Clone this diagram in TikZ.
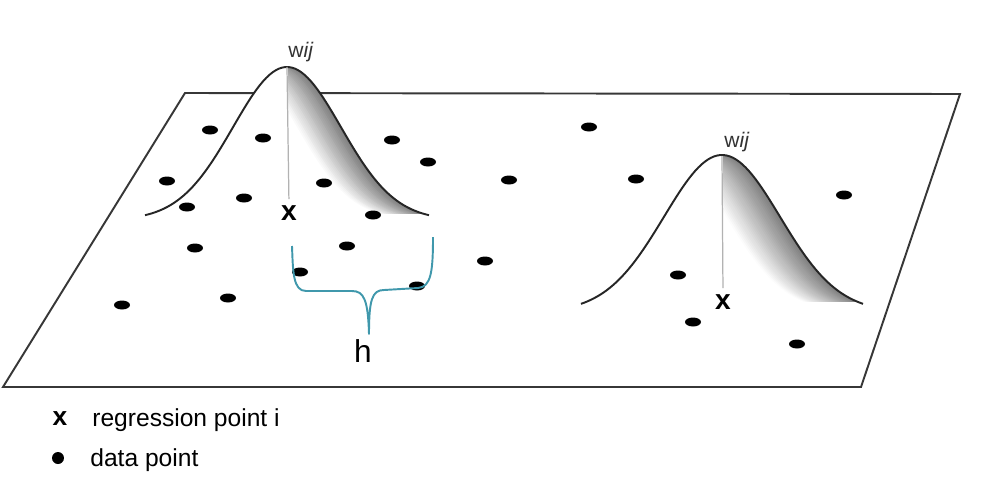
\documentclass[tikz,border=0pt]{standalone}
\usepackage{fontspec}
\setmainfont{Liberation Sans}
\usetikzlibrary{positioning}
\definecolor{braceteal}{RGB}{64,152,172}
\definecolor{planeedge}{RGB}{55,55,55}
% bell: centre, sigma, base, height, half range, band width
\newcommand{\drawbell}[6]{%
  \pgfmathsetmacro{\yend}{#3-#4*exp(-0.5*((#5)/#2)^2)}
  \fill[white] plot[domain=#1-#5:#1+#5, samples=90]
    (\x,{#3-#4*exp(-0.5*((\x-#1)/#2)^2)}) -- cycle;
  \foreach \s [evaluate=\s as \g using {int(50-50*\s/#6)}] in {0,2,...,#6}
    \fill[black!\g] (#1,\yend)
      -- plot[domain=#1:#1+#5-\s, samples=50] (\x,{#3-#4*exp(-0.5*((\x+\s-#1)/#2)^2)})
      -- cycle;
  \draw[white, line width=1.6pt] (#1,\yend) -- (#1+#5,\yend);
  \draw[white, line width=1.2pt] (#1,#3-#4) -- (#1,\yend);
  \draw[bellline] plot[domain=#1-#5:#1+#5, samples=90]
    (\x,{#3-#4*exp(-0.5*((\x-#1)/#2)^2)});
}

\begin{document}
\begin{tikzpicture}[x=0.02cm, y=-0.02cm,
    planeline/.style={draw=planeedge, line width=1.1pt, line join=miter},
    bellline/.style={draw=black!85, line width=1.1pt},
    heightline/.style={draw=black!30, line width=0.7pt, shorten >=3.5pt},
    regpt/.style={inner sep=0pt, font=\fontsize{16}{16}\selectfont\bfseries},
    wlabel/.style={inner sep=0pt, text=black!80, font=\fontsize{12}{12}\selectfont},
    legendtext/.style={anchor=base west, inner sep=0pt, font=\fontsize{14}{16}\selectfont}
]
\useasboundingbox (0,0) rectangle (997,494);

% ground plane
\draw[planeline] (3,387) -- (185,93) -- (960,94) -- (861,387) -- cycle;

% kernels
\drawbell{287}{54}{220}{153}{142}{44}
\drawbell{722}{58}{312}{157}{141}{54}

% data points
\foreach \px/\py in {210/130, 263/138, 392/140, 428/162, 167/181, 324/183,
    509/180, 636/179, 589/127, 844/195, 187/207, 244/198, 373/215, 195/248,
    347/246, 485/261, 300/272, 417/286, 228/298, 122/305, 678/275, 693/322, 797/344}
  \fill (\px,\py) ellipse [x radius=0.16cm, y radius=0.09cm];

% regression points
\node[regpt] (xL) at (289,213) {x};
\coordinate (peakL) at (287,67);
\draw[heightline] (peakL) -- (xL.north);
\node[wlabel] (wL) at (301,52) {w\textit{ij}};

\node[regpt] (xR) at (723,302) {x};
\coordinate (peakR) at (722,156);
\draw[heightline] (peakR) -- (xR.north);
\node[wlabel] (wR) at (737,142) {w\textit{ij}};

% bandwidth brace
\node[inner sep=0pt, font=\fontsize{18}{18}\selectfont] (hlab) at (363,351) {h};
\draw[braceteal, line width=1.1pt, line join=round]
  (292,246) .. controls (293,272) and (293,291) .. (306,291) -- (352,291)
  .. controls (364,291) and (368,300) .. (369,334)
  .. controls (369,300) and (372,290) .. (384,290) -- (418,288)
  .. controls (431,287) and (433,272) .. (433,237);

% legend
\node[regpt, font=\fontsize{15}{15}\selectfont\bfseries] (legx) at (60,419) {x};
\node[legendtext] (legreg) at (92,426) {regression point i};
\fill (58,458) circle [radius=0.12cm];
\node[legendtext] (legdata) at (90,466) {data point};
\end{tikzpicture}
\end{document}
